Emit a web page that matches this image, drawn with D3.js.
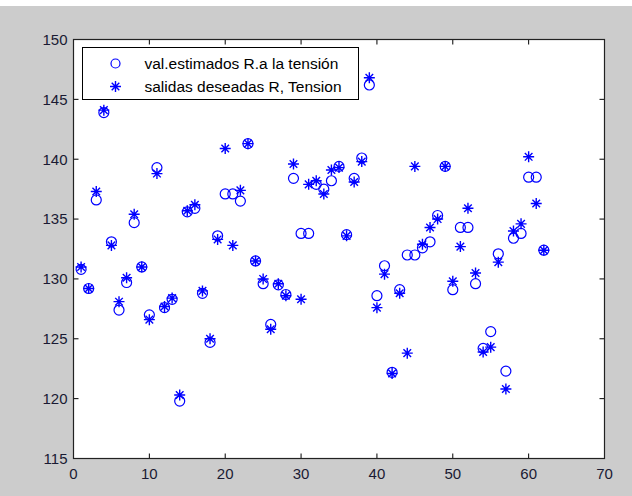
<!DOCTYPE html>
<html>
<head>
<meta charset="utf-8">
<script src="https://cdn.jsdelivr.net/npm/d3@7"></script>
<style>
  body { margin: 0; background: #cccccc; }
  svg { display: block; }
  .tick-label { font-family: "Liberation Sans", Arial, sans-serif; font-size: 15px; fill: #1a1a33; }
  .legend text { font-family: "Liberation Sans", Arial, sans-serif; font-size: 15.5px; fill: #000; }
</style>
</head>
<body>
<div id="chart1"></div>
<script>
// muestra 1..62
var indices = d3.range(1, 63);

var estimados = [130.8, 129.2, 136.6, 143.9, 133.1, 127.4, 129.7, 134.7, 131.0, 127.0,
                 139.3, 127.6, 128.3, 119.8, 135.6, 135.9, 128.8, 124.7, 133.6, 137.1,
                 137.1, 136.5, 141.3, 131.5, 129.6, 126.2, 129.5, 128.7, 138.4, 133.8,
                 133.8, 137.9, 137.5, 138.2, 139.4, 133.7, 138.4, 140.1, 146.2, 128.6,
                 131.1, 122.2, 129.1, 132.0, 132.0, 132.6, 133.1, 135.3, 139.4, 129.1,
                 134.3, 134.3, 129.6, 124.2, 125.6, 132.1, 122.3, 133.4, 133.8, 138.5,
                 138.5, 132.4];

var deseadas = [131.0, 129.2, 137.3, 144.1, 132.8, 128.1, 130.1, 135.4, 131.0, 126.6,
                138.8, 127.7, 128.4, 120.3, 135.7, 136.2, 129.0, 125.0, 133.3, 140.9,
                132.8, 137.4, 141.3, 131.5, 130.0, 125.8, 129.6, 128.6, 139.6, 128.3,
                137.9, 138.2, 137.1, 139.1, 139.3, 133.6, 138.1, 139.8, 146.8, 127.6,
                130.4, 122.1, 128.8, 123.8, 139.4, 132.9, 134.3, 135.0, 139.4, 129.8,
                132.7, 135.9, 130.5, 123.9, 124.3, 131.4, 120.8, 134.0, 134.6, 140.2,
                136.3, 132.4];

var xTicks = [0, 10, 20, 30, 40, 50, 60, 70];
var yTicks = [115, 120, 125, 130, 135, 140, 145, 150];
var legendLabels = ["val.estimados R.a la tensión", "salidas deseadas R, Tension"];

var W = 632, H = 496;
var margin = {top: 39.5, right: 27.5, bottom: 37.5, left: 73.5},
    width = W - margin.left - margin.right,
    height = H - margin.top - margin.bottom;

var x = d3.scaleLinear().domain([0, 70]).range([0, width]);
var y = d3.scaleLinear().domain([115, 150]).range([height, 0]);

var svg = d3.select("#chart1").append("svg")
    .attr("width", W)
    .attr("height", H);

svg.append("rect").attr("width", W).attr("height", H).attr("fill", "#cccccc");
svg.append("rect").attr("width", W).attr("height", 6).attr("fill", "#ffffff");

var g = svg.append("g")
    .attr("transform", "translate(" + margin.left + "," + margin.top + ")");

g.append("rect")
    .attr("width", width)
    .attr("height", height)
    .attr("fill", "#ffffff");

// ticks hacia dentro, en los cuatro lados (estilo matlab)
var tl = 5;
var tickG = g.append("g").attr("stroke", "#000").attr("stroke-width", 1);
xTicks.slice(1, -1).forEach(function(t) {
  tickG.append("line").attr("x1", x(t)).attr("x2", x(t)).attr("y1", height).attr("y2", height - tl);
  tickG.append("line").attr("x1", x(t)).attr("x2", x(t)).attr("y1", 0).attr("y2", tl);
});
yTicks.slice(1, -1).forEach(function(t) {
  tickG.append("line").attr("y1", y(t)).attr("y2", y(t)).attr("x1", 0).attr("x2", tl);
  tickG.append("line").attr("y1", y(t)).attr("y2", y(t)).attr("x1", width).attr("x2", width - tl);
});

g.selectAll(".xlab")
    .data(xTicks)
  .enter().append("text")
    .attr("class", "tick-label")
    .attr("x", function(d) { return x(d); })
    .attr("y", height + 20)
    .attr("text-anchor", "middle")
    .text(function(d) { return d; });

g.selectAll(".ylab")
    .data(yTicks)
  .enter().append("text")
    .attr("class", "tick-label")
    .attr("x", -6)
    .attr("y", function(d) { return y(d); })
    .attr("dy", "0.36em")
    .attr("text-anchor", "end")
    .text(function(d) { return d; });

g.append("rect")
    .attr("width", width)
    .attr("height", height)
    .attr("fill", "none")
    .attr("stroke", "#222")
    .attr("stroke-width", 1.2);

var blue = "#0000ff";

function star(sel) {
  var r = 5.5, d = 3.8;
  sel.append("path")
    .attr("d", "M" + (-r) + ",0H" + r + "M0," + (-r) + "V" + r +
               "M" + (-d) + "," + (-d) + "L" + d + "," + d +
               "M" + (-d) + "," + d + "L" + d + "," + (-d))
    .attr("stroke", blue)
    .attr("stroke-width", 1.4)
    .attr("fill", "none");
}

g.selectAll(".circ")
    .data(indices)
  .enter().append("circle")
    .attr("class", "circ")
    .attr("cx", function(d, i) { return x(d); })
    .attr("cy", function(d, i) { return y(estimados[i]); })
    .attr("r", 5)
    .attr("fill", "none")
    .attr("stroke", blue)
    .attr("stroke-width", 1.2);

g.selectAll(".star")
    .data(indices)
  .enter().append("g")
    .attr("class", "star")
    .attr("transform", function(d, i) { return "translate(" + x(d) + "," + y(deseadas[i]) + ")"; })
    .call(star);

// leyenda
var lg = svg.append("g").attr("class", "legend").attr("transform", "translate(82.5,47.5)");
lg.append("rect")
    .attr("width", 276)
    .attr("height", 52)
    .attr("fill", "#fff")
    .attr("stroke", "#000")
    .attr("stroke-width", 1);
lg.append("circle")
    .attr("cx", 33).attr("cy", 16).attr("r", 4.5)
    .attr("fill", "none").attr("stroke", blue).attr("stroke-width", 1.2);
lg.append("g").attr("transform", "translate(33,39)").call(star);
lg.selectAll("text")
    .data(legendLabels)
  .enter().append("text")
    .attr("x", 62)
    .attr("y", function(d, i) { return 16 + i * 23; })
    .attr("dy", "0.36em")
    .text(function(d) { return d; });
</script>
</body>
</html>
